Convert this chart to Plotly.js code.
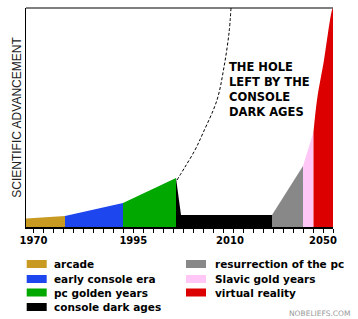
<!DOCTYPE html>
<html><head><meta charset="utf-8">
<script src="https://cdn.plot.ly/plotly-3.0.1.min.js"></script>
<style>html,body{margin:0;padding:0;background:#fff}#chart{width:358px;height:319px}</style>
</head><body><div id="chart"></div>
<script>
// x in "timeline position" units (10 units between labelled ticks), y = advancement
const eraNames = ['arcade','early console era','pc golden years','console dark ages',
                  'resurrection of the pc','Slavic gold years','virtual reality'];
const eraColors = ['#C99A22','#1E46EE','#00A800','#000000','#888888','#FFC6F6','#DD0000'];
const arcadeX = [-0.7, 3.2];               const arcadeY = [8.5, 11];
const earlyX  = [3.2, 9.0];                const earlyY  = [11, 24];
const pcX     = [9.0, 14.3];               const pcY     = [24, 49];
const darkX   = [14.3, 14.8, 23.9];        const darkY   = [49, 12, 12];
const resX    = [23.9, 27.0];              const resY    = [12, 61];
const slavX   = [27.0, 28.05];             const slavY   = [61, 95];
const vrX     = [28.05, 28.4, 29.1, 29.5, 29.9, 30.0];
const vrY     = [95, 127, 167, 194, 217, 219];
const holeX   = [14.4, 15.2, 16.2, 17.0, 18.4, 19.1, 19.6, 19.8];
const holeY   = [47, 60, 77, 94, 127, 160, 194, 219];
const tickPos    = [0.05, 10.03, 19.7, 29];
const tickLabels = ['1970','1995','2010','2050'];
const holeText = ['THE HOLE','LEFT BY THE','CONSOLE','DARK AGES'];
const yTitle = 'SCIENTIFIC ADVANCEMENT';
const watermark = 'NOBELIEFS.COM';

const seriesX = [arcadeX, earlyX, pcX, darkX, resX, slavX, vrX];
const seriesY = [arcadeY, earlyY, pcY, darkY, resY, slavY, vrY];

const traces = seriesX.map((xs, i) => ({
  type: 'scatter', mode: 'lines', x: xs, y: seriesY[i], name: eraNames[i],
  fill: 'tozeroy', fillcolor: eraColors[i],
  line: {width: 0, color: eraColors[i], shape: xs.length > 3 ? 'spline' : 'linear'},
  showlegend: false, hoverinfo: 'skip'
}));
traces.push({type: 'scatter', mode: 'lines', x: holeX, y: holeY, name: 'hole',
  line: {color: '#000', width: 1, dash: '3px,2px', shape: 'spline'}, showlegend: false});

// plot box in pixels
const L = 26, T = 8, W = 307, H = 219;
const px = v => (v - L) / W;
const py = v => (T + H - v) / H;

const shapes = [{type: 'line', xref: 'paper', yref: 'paper', x0: 0, x1: 1, y0: 1, y1: 1,
  line: {color: '#000', width: 1}}];
const annotations = [];
const legRows = [[0,1,2,3],[4,5,6]];
const legSwX = [26.7, 186];
const legTxX = [52, 213];
const rowY = [264, 279, 292.5, 307];
legRows.forEach((col, c) => col.forEach((idx, r) => {
  shapes.push({type: 'rect', xref: 'paper', yref: 'paper',
    x0: px(legSwX[c]), x1: px(legSwX[c] + 20), y0: py(rowY[r] - 4), y1: py(rowY[r] + 4),
    fillcolor: eraColors[idx], line: {width: 0}});
  annotations.push({xref: 'paper', yref: 'paper', x: px(legTxX[c]), y: py(rowY[r]),
    xanchor: 'left', yanchor: 'middle', showarrow: false, text: eraNames[idx],
    font: {family: 'DejaVu Sans', size: 10.5, weight: 'bold', color: '#000'}});
}));
const holeRowY = [67, 82, 97, 112];
holeText.forEach((t, i) => annotations.push({xref: 'paper', yref: 'paper',
  x: px(226.5), y: py(holeRowY[i]), xanchor: 'left', yanchor: 'middle', showarrow: false,
  text: t, font: {family: 'DejaVu Sans', size: 11.5, weight: 'bold', color: '#000'}}));
annotations.push({xref: 'paper', yref: 'paper', x: px(352), y: py(313), xanchor: 'right',
  yanchor: 'middle', showarrow: false, text: watermark,
  font: {family: 'DejaVu Sans', size: 7.5, color: '#999'}});

const layout = {
  width: 358, height: 319, margin: {l: L, r: 358 - L - W, t: T, b: 319 - T - H},
  paper_bgcolor: '#fff', plot_bgcolor: '#fff', showlegend: false,
  xaxis: {range: [-0.7, 30], tickmode: 'array', tickvals: tickPos, ticktext: tickLabels,
    ticks: '', ticklabelstandoff: 3, showgrid: false, zeroline: false, showline: true,
    linecolor: '#000', linewidth: 2,
    tickfont: {family: 'DejaVu Sans', size: 10, weight: 'bold', color: '#000'},
    minor: {tickmode: 'linear', tick0: 0, dtick: 1, ticks: 'outside', ticklen: 4,
      tickcolor: '#000', tickwidth: 1, showgrid: false}},
  yaxis: {range: [0, 219], showticklabels: false, ticks: '', showgrid: false, zeroline: false,
    showline: true, linecolor: '#000', linewidth: 1,
    title: {text: yTitle, standoff: 0, font: {family: 'Liberation Sans', size: 12, color: '#222'}}},
  shapes: shapes, annotations: annotations
};
Plotly.newPlot('chart', traces, layout, {staticPlot: true});
</script></body></html>
